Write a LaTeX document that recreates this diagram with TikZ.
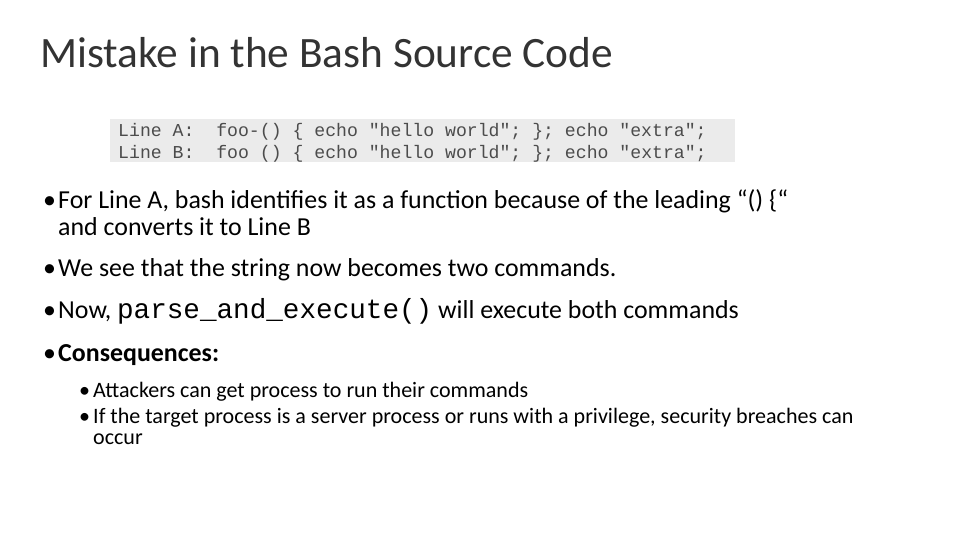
\documentclass[tikz,border=0pt]{standalone}
\usepackage{fontspec}
\setmainfont{Carlito}
\setmonofont{Liberation Mono}
\usetikzlibrary{positioning}
\tikzset{
    body/.style={
           anchor=base west,
           inner sep=0pt,
           font=\fontsize{22.1}{26}\selectfont,
           },
    sub/.style={
           anchor=base west,
           inner sep=0pt,
           font=\fontsize{18.8}{22}\selectfont,
           },
    code/.style={
           anchor=base west,
           inner sep=0pt,
           text=black!70,
           font=\ttfamily\fontsize{15.5}{18}\selectfont,
           }
}
\begin{document}
\begin{tikzpicture}[x=0.03cm,y=-0.03cm]
\useasboundingbox (0,0) rectangle (960,540);
\node (title) at (40,68) [anchor=base west, inner sep=0pt, font=\fontsize{37}{42}\selectfont, text=black!80] {Mistake in the Bash Source Code};
% code box
\fill[black!8] (110,119) rectangle (735,162);
\node (la) at (118,137) [code] {Line A:\ \ foo-() \{ echo "hello world"; \}; echo "extra";};
\node (lb) at (118,159) [code] {Line B:\ \ foo () \{ echo "hello world"; \}; echo "extra";};
% bullets
\node (b1) at (43,208) [body] {\textbullet};
\node (t1) at (58,208) [body] {For Line A, bash identifies it as a function because of the leading “() \{“};
\node (t1b) at (58,235) [body] {and converts it to Line B};
\node (b2) at (43,276) [body] {\textbullet};
\node (t2) at (58,276) [body] {We see that the string now becomes two commands.};
\node (b3) at (43,318) [body] {\textbullet};
\node (t3) at (58,318) [body] {Now, {\ttfamily\fontsize{23.6}{26}\selectfont parse\_and\_execute()} will execute both commands};
\node (b4) at (43,361) [body] {\textbullet};
\node (t4) at (58,361) [body] {\textbf{Consequences:}};
\node (s1) at (79,397) [sub] {\textbullet};
\node (u1) at (93,397) [sub] {Attackers can get process to run their commands};
\node (s2) at (79,423) [sub] {\textbullet};
\node (u2) at (93,423) [sub] {If the target process is a server process or runs with a privilege, security breaches can};
\node (u2b) at (93,444) [sub] {occur};
\end{tikzpicture}
\end{document}
